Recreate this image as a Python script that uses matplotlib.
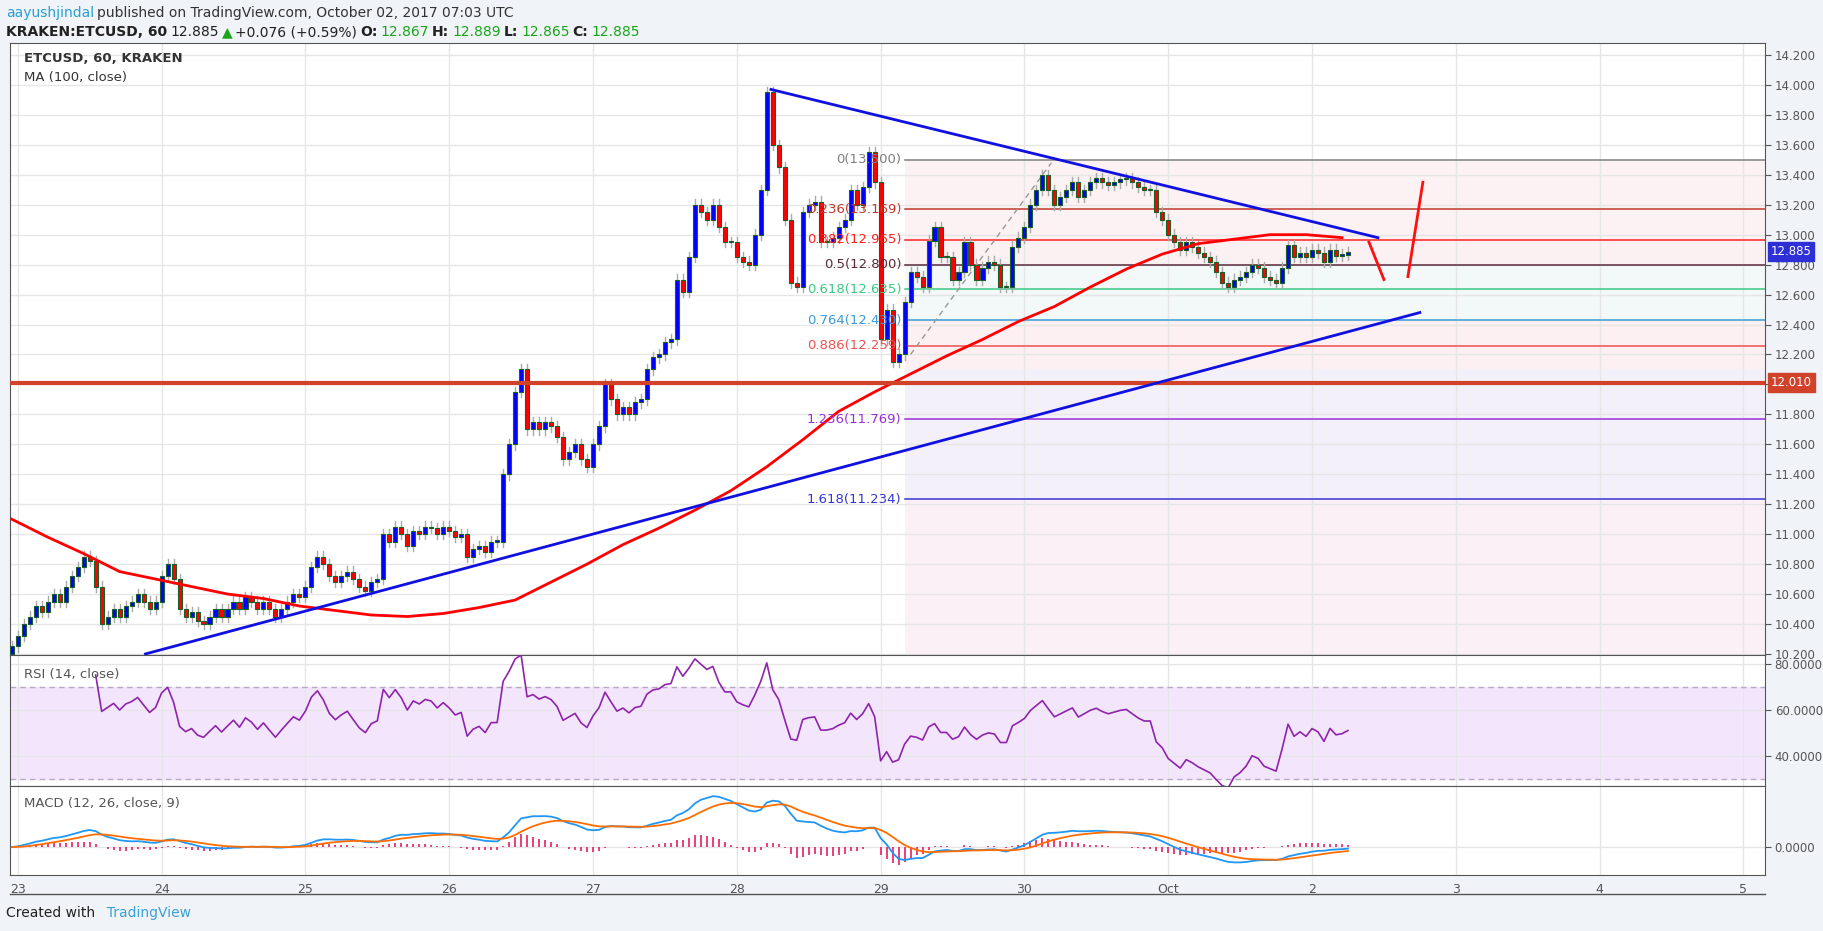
import numpy as np
import pandas as pd
import matplotlib.pyplot as plt

# hourly closes, starting Sep 22 23:00 (hour -1 relative to Sep 23 00:00)
closes = [
    10.25, 10.32, 10.4, 10.45, 10.52, 10.48, 10.55, 10.6, 10.55, 10.65, 10.72, 10.78,
    10.85, 10.82, 10.65, 10.4, 10.45, 10.5, 10.45, 10.52, 10.55, 10.6, 10.55, 10.5,
    10.55, 10.72, 10.8, 10.7, 10.5, 10.45, 10.48, 10.42, 10.4, 10.45, 10.5, 10.45,
    10.5, 10.55, 10.5, 10.58, 10.55, 10.5, 10.55, 10.5, 10.45, 10.5, 10.55, 10.6,
    10.58, 10.65, 10.78, 10.85, 10.8, 10.72, 10.68, 10.72, 10.75, 10.7, 10.65, 10.62,
    10.68, 10.7, 11.0, 10.95, 11.05, 11.0, 10.92, 11.02, 11.0, 11.05, 11.04, 11.0,
    11.05, 11.02, 10.98, 11.0, 10.85, 10.9, 10.92, 10.88, 10.95, 10.95, 11.4, 11.6,
    11.95, 12.1, 11.7, 11.75, 11.7, 11.75, 11.72, 11.65, 11.5, 11.55, 11.6, 11.5,
    11.45, 11.6, 11.72, 12.0, 11.9, 11.8, 11.85, 11.8, 11.88, 11.9, 12.1, 12.18,
    12.2, 12.28, 12.3, 12.7, 12.62, 12.85, 13.2, 13.15, 13.1, 13.2, 13.05, 12.95,
    12.95, 12.85, 12.82, 12.8, 13.0, 13.3, 13.95, 13.6, 13.45, 13.1, 12.68, 12.65,
    13.15, 13.2, 13.22, 12.95, 12.95, 12.98, 13.05, 13.1, 13.3, 13.2, 13.32, 13.55,
    13.35, 12.3, 12.5, 12.15, 12.2, 12.55, 12.75, 12.72, 12.65, 12.96, 13.05, 12.85,
    12.85, 12.7, 12.75, 12.95, 12.8, 12.7, 12.78, 12.82, 12.8, 12.65, 12.65, 12.92,
    12.98, 13.05, 13.2, 13.3, 13.4, 13.3, 13.2, 13.25, 13.3, 13.35, 13.25, 13.3,
    13.35, 13.38, 13.35, 13.33, 13.35, 13.37, 13.38, 13.35, 13.32, 13.3, 13.3, 13.15,
    13.1, 13.0, 12.95, 12.9, 12.95, 12.92, 12.88, 12.85, 12.82, 12.75, 12.68, 12.65,
    12.7, 12.72, 12.75, 12.8, 12.78, 12.72, 12.7, 12.68, 12.78, 12.93, 12.85, 12.88,
    12.85, 12.9, 12.88, 12.82, 12.9, 12.86, 12.867, 12.885,
]
first_open = 10.2
wick = 0.035

# MA(100) read every 6 hours from hour -1
ma_hours = list(range(-1, 222, 6))
ma_vals = [11.1, 10.98, 10.87, 10.75, 10.7, 10.65, 10.6, 10.57, 10.52, 10.49, 10.46, 10.45,
           10.47, 10.51, 10.56, 10.68, 10.8, 10.93, 11.04, 11.16, 11.29, 11.45, 11.63, 11.82,
           11.95, 12.07, 12.19, 12.3, 12.42, 12.52, 12.65, 12.77, 12.87, 12.94, 12.97, 13.0,
           13.0, 12.98]

day_labels = ["23", "24", "25", "26", "27", "28", "29", "30", "Oct", "2", "3", "4", "5"]

fib_levels = [0, 0.236, 0.382, 0.5, 0.618, 0.764, 0.886, 1.236, 1.618]
fib_prices = [13.5, 13.169, 12.965, 12.8, 12.635, 12.43, 12.259, 11.769, 11.234]
fib_colors = ["#808080", "#c0392b", "#ff2020", "#5a2a3a", "#3cc882", "#3a9ad9", "#f05050", "#9b30d9", "#3535d0"]
fib_bands = [(13.5, 12.965, "#fdf2f3"), (12.965, 12.8, "#fbf1f2"), (12.8, 12.43, "#f3f8f9"),
             (12.43, 12.1, "#fcf0f2"), (12.1, 11.234, "#f4f0fa"), (11.234, 10.0, "#faf0f5")]

support = 12.01
down_line = [(125.7, 13.97), (227, 12.98)]
up_line = [(21.3, 10.2), (234, 12.48)]
fib_dash = [(149, 12.2), (172.5, 13.48)]
arrow1 = [(225.5, 12.95), (228, 12.7)]
arrow2 = [(232, 12.72), (234.5, 13.35)]

hours = np.arange(-1, -1 + len(closes))
c = np.array(closes)
o = np.concatenate([[first_open], c[:-1]])

s = pd.Series(c)
d = s.diff()
up = d.clip(lower=0).ewm(alpha=1 / 14, adjust=False, min_periods=14).mean()
dn = (-d.clip(upper=0)).ewm(alpha=1 / 14, adjust=False, min_periods=14).mean()
rsi = 100 - 100 / (1 + up / dn)
macd = s.ewm(span=12, adjust=False).mean() - s.ewm(span=26, adjust=False).mean()
signal = macd.ewm(span=9, adjust=False).mean()
hist = macd - signal

W, H = 1824, 931
fig = plt.figure(figsize=(W / 100, H / 100), dpi=100)
fig.patch.set_facecolor("#f0f3f7")
L, R = 10 / W, 1765 / W

def box(top, bot):
    return [L, 1 - bot / H, R - L, (bot - top) / H]

ax = fig.add_axes(box(43, 655))
ax_r = fig.add_axes(box(655, 786), sharex=ax)
ax_m = fig.add_axes(box(786, 875), sharex=ax)

xmin, xmax = -1.3, 291.6
grid_c = "#e6e6e6"
for a in (ax, ax_r, ax_m):
    a.set_facecolor("white")
    a.set_xlim(xmin, xmax)
    a.yaxis.tick_right()
    a.tick_params(axis="y", colors="#555555", labelsize=8.5, length=4, pad=3)
    a.tick_params(axis="x", length=0, labelbottom=False)
    for sp in a.spines.values():
        sp.set_color("#555555")
    a.set_xticks(np.arange(0, 13) * 24)
    a.grid(True, color=grid_c, lw=1)
    a.set_axisbelow(True)

# main panel
ax.set_ylim(10.193, 14.28)
ticks = np.arange(10.2, 14.21, 0.2)
ax.set_yticks(ticks)
# the 12.000 label sits under the support price box
ax.set_yticklabels(["" if abs(v - 12.0) < 1e-6 else f"{v:.3f}" for v in ticks])

fx0 = 148
for top, bot, col in fib_bands:
    ax.fill_between([fx0, xmax], bot, top, color=col, lw=0, zorder=0.5)
for lvl, p, col in zip(fib_levels, fib_prices, fib_colors):
    ax.plot([fx0, xmax], [p, p], color=col, lw=1.1, zorder=1)
    ax.text(fx0 - 0.5, p, f"{lvl:g}({p:.3f})", color=col, fontsize=9.5, ha="right", va="center",
            zorder=6)
ax.plot(*zip(*fib_dash), color="#999999", lw=1, ls=(0, (4, 3)), zorder=2)

for h, op, cl in zip(hours, o, c):
    hi, lo = max(op, cl) + wick, min(op, cl) - wick
    ax.plot([h, h], [lo, hi], color="#aaaaaa", lw=1, zorder=3)
    col = "#0000ff" if cl >= op else "#ff0000"
    ax.bar(h, max(abs(cl - op), 0.008), bottom=min(op, cl), width=0.68, color=col,
           edgecolor="#1c5e2a", lw=0.8, zorder=4)

ax.plot(ma_hours, ma_vals, color="#ff0000", lw=2, zorder=5)
ax.axhline(support, color="#d0432a", lw=3, zorder=5)
ax.plot(*zip(*down_line), color="#1010e0", lw=2, zorder=5)
ax.plot(*zip(*up_line), color="#1010e0", lw=2, zorder=5)
ax.plot(*zip(*arrow1), color="#ff1010", lw=2, zorder=5)
ax.plot(*zip(*arrow2), color="#ff1010", lw=2, zorder=5)

for p, col in [(support, "#d0432a"), (c[-1], "#2f2fd8")]:
    ax.annotate(f"{p:.3f}", xy=(1.0, p), xycoords=("axes fraction", "data"), xytext=(4, 0),
                textcoords="offset points", ha="left", va="center", color="white", fontsize=8.5,
                bbox=dict(boxstyle="square,pad=0.25", fc=col, ec=col), zorder=10,
                annotation_clip=False)

ax.text(0.008, 0.985, "ETCUSD, 60, KRAKEN", transform=ax.transAxes, fontsize=9.5,
        color="#333333", fontweight="bold", va="top")
ax.text(0.008, 0.955, "MA (100, close)", transform=ax.transAxes, fontsize=9.5,
        color="#333333", va="top")

# RSI panel
ax_r.set_ylim(27, 83.9)
ax_r.set_yticks([40, 60, 80])
ax_r.set_yticklabels(["40.0000", "60.0000", "80.0000"])
ax_r.axhspan(30, 70, color="#f3e6fc", zorder=0.5)
for lv in (30, 70):
    ax_r.axhline(lv, color="#b8aac0", lw=1, ls=(0, (4, 3)), zorder=1)
ax_r.plot(hours, rsi, color="#8e24aa", lw=1.2, zorder=3)
ax_r.text(0.008, 0.9, "RSI (14, close)", transform=ax_r.transAxes, fontsize=9.5,
          color="#555555", va="top")

# MACD panel
top = max(macd.max(), signal.max()) * 1.2
ax_m.set_ylim(-top * 28 / 61, top)
ax_m.set_yticks([0])
ax_m.set_yticklabels(["0.0000"])
ax_m.vlines(hours, 0, hist, color="#e91e63", lw=1.2, zorder=2)
ax_m.plot(hours, macd, color="#2196f3", lw=1.3, zorder=3)
ax_m.plot(hours, signal, color="#ff6d00", lw=1.3, zorder=3)
ax_m.text(0.008, 0.88, "MACD (12, 26, close, 9)", transform=ax_m.transAxes, fontsize=9.5,
          color="#555555", va="top")

ax_m.tick_params(axis="x", labelbottom=True, colors="#555555", labelsize=9, pad=6)
ax_m.set_xticklabels(day_labels)

fig.add_artist(plt.Line2D([L, 1765 / W], [1 - 894 / H, 1 - 894 / H], color="#555555", lw=1))

# header, placed piece by piece using measured widths
renderer = fig.canvas.get_renderer()

def line(y, parts):
    x = 6
    for txt, col, bold in parts:
        t = fig.text(x / W, 1 - y / H, txt, color=col, fontsize=10, va="center",
                     fontweight="bold" if bold else "normal")
        x += t.get_window_extent(renderer).width + 3

line(13, [("aayushjindal", "#2a9fd6", False),
          ("published on TradingView.com, October 02, 2017 07:03 UTC", "#333333", False)])
line(32, [("KRAKEN:ETCUSD, 60", "#222222", True), ("12.885", "#222222", False),
          ("\u25B2", "#1aa51a", False), ("+0.076 (+0.59%)", "#222222", False),
          ("O:", "#222222", True), ("12.867", "#1aa51a", False),
          ("H:", "#222222", True), ("12.889", "#1aa51a", False),
          ("L:", "#222222", True), ("12.865", "#1aa51a", False),
          ("C:", "#222222", True), ("12.885", "#1aa51a", False)])
line(913, [("Created with", "#222222", False), ("  TradingView", "#3aa0d8", False)])

fig.savefig("out.png", dpi=100, facecolor=fig.get_facecolor())
